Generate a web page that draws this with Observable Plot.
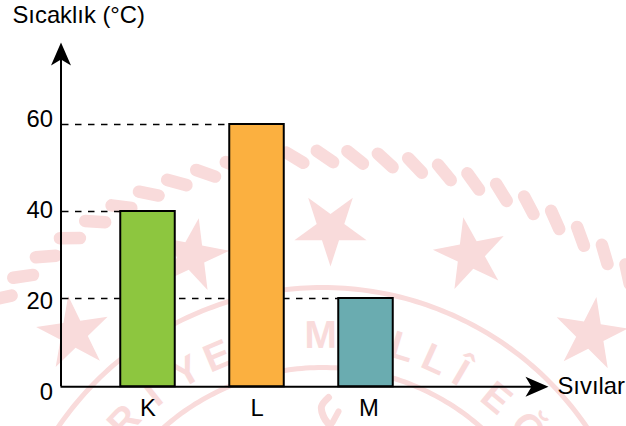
<!DOCTYPE html>
<html><head><meta charset="utf-8">
<style>html,body{margin:0;padding:0;background:#fff;overflow:hidden}svg{display:block}</style>
<script src="https://cdn.jsdelivr.net/npm/d3@7"></script>
<script src="https://cdn.jsdelivr.net/npm/@observablehq/plot@0.6"></script>
</head><body><div id="chart"></div>
<script>
const categories = ["K", "L", "M"];
const positions = [1, 2, 3];
const values = [40, 60, 20];
const colors = ["#8dc63f", "#fbb040", "#6aacb0"];
const labelNudge = [0, 0, 3];
const ticks = [0, 20, 40, 60];
const tickNudge = [6.5, 2.5, -1.5, -5];
const axisBase = -0.3;

// faint seal behind the chart, described in page pixels
const pink = "#f9dbdb";
const starX = [73, 191, 330, 470, 590];
const starY = [333, 255, 228, 254, 334];
const starTurn = [-8, 11, 36, -11, 9];
const ropeAngles = d3.range(-47, 48, 3.9);
const sealWord = ["R","İ","Y","E","M","İ","L","L","Î","E","Ğ"];
const sealAngles = [-46.8,-38.5,-30,-22.7,-0.4,8,17,24.4,30.5,39.7,49];

const X0 = 38.5, XSTEP = 109, Y0 = 385, Y60 = 124;
const wx = p => (p - X0) / XSTEP;
const wy = p => 60 * (Y0 - p) / (Y0 - Y60);
const rad = d => d * Math.PI / 180;
const onCircle = (cx, cy, r, a) => [cx + r * Math.sin(rad(a)), cy - r * Math.cos(rad(a))];
const arc = (cx, cy, r) => d3.range(-70, 71, 1).map(a => onCircle(cx, cy, r, a));

const arrowHead = {draw(c, size) {
  const s = Math.sqrt(size / Math.PI) / 12;
  c.moveTo(0, -12 * s); c.lineTo(10 * s, 11 * s); c.lineTo(0, 5 * s); c.lineTo(-10 * s, 11 * s); c.closePath();
}};

const axisX = wx(60.5);
const bars = categories.map((c, i) => ({c, p: positions[i], v: values[i], col: colors[i], n: labelNudge[i]}));
const rope = ropeAngles.map(a => {
  const [x, y] = onCircle(326, 600, 444, a);
  const t = rad(a + 35);
  return {x1: x - 10 * Math.cos(t), y1: y - 10 * Math.sin(t), x2: x + 10 * Math.cos(t), y2: y + 10 * Math.sin(t)};
});
const letters = sealWord.map((l, i) => {
  const [x, y] = onCircle(322, 607, 272, sealAngles[i]);
  return {l, x, y, a: sealAngles[i]};
});
const flame = [[328, 397], [321, 406], [323, 416], [330, 426]];
const flameTip = [[338, 411], [332, 422]];

const font = "Liberation Sans, Arial, sans-serif";
const FS = 23.8;
const marks = [
  ...[320, 240].map(r => Plot.line(arc(322, 607, r), {x: d => wx(d[0]), y: d => wy(d[1]), stroke: pink, strokeWidth: 5})),
  Plot.link(rope, {x1: d => wx(d.x1), y1: d => wy(d.y1), x2: d => wx(d.x2), y2: d => wy(d.y2), stroke: pink, strokeWidth: 12.5, strokeLinecap: "round"}),
  Plot.dot(starX.map((x, i) => i), {x: i => wx(starX[i]), y: i => wy(starY[i]), symbol: "star", r: 22.7, rotate: i => starTurn[i], fill: pink, stroke: "none"}),
  Plot.text(letters, {x: d => wx(d.x), y: d => wy(d.y), text: "l", rotate: d => d.a, fill: pink, fontSize: 39, fontWeight: "bold", fontFamily: font}),
  Plot.line(flame, {x: d => wx(d[0]), y: d => wy(d[1]), stroke: pink, strokeWidth: 7, curve: "catmull-rom"}),
  Plot.line(flameTip, {x: d => wx(d[0]), y: d => wy(d[1]), stroke: pink, strokeWidth: 6}),

  Plot.ruleY(values, {x1: wx(62), x2: v => bars.find(b => b.v === v).p - 0.25, stroke: "#000", strokeWidth: 1.3, strokeDasharray: "6.5,6.5"}),
  Plot.rect(bars, {x1: d => d.p - 0.25, x2: d => d.p + 0.25, y1: axisBase, y2: "v", fill: "col", stroke: "#000", strokeWidth: 2}),
  Plot.ruleY([axisBase], {x1: axisX, x2: wx(535), stroke: "#000", strokeWidth: 2}),
  Plot.ruleX([axisX], {y1: axisBase, y2: wy(55), stroke: "#000", strokeWidth: 2}),
  Plot.dot([0], {x: axisX, y: wy(54), symbol: arrowHead, r: 12, fill: "#000", stroke: "none"}),
  Plot.dot([0], {x: wx(536), y: axisBase, symbol: arrowHead, r: 12, rotate: 90, fill: "#000", stroke: "none"}),

  ...ticks.map((t, i) => Plot.text([t], {x: axisX, y: t, text: d => String(d), dx: -8, dy: tickNudge[i], textAnchor: "end", fontSize: FS, fontFamily: font, fill: "#000"})),
  ...bars.map(b => Plot.text([b], {x: "p", y: 0, text: "c", dx: b.n, dy: 23, fontSize: FS, fontFamily: font, fill: "#000"})),
  Plot.text(["Sıcaklık (°C)"], {x: wx(12), y: wy(15), text: d => d, textAnchor: "start", fontSize: FS, fontFamily: font, fill: "#000"}),
  Plot.text(["Sıvılar"], {x: wx(557), y: axisBase, text: d => d, textAnchor: "start", fontSize: FS, fontFamily: font, fill: "#000"})
];

document.getElementById("chart").append(Plot.plot({
  width: 626, height: 426, margin: 0,
  style: {background: "#fff"},
  x: {type: "linear", domain: [0, 4], range: [X0, X0 + 4 * XSTEP], axis: null},
  y: {type: "linear", domain: [0, 60], range: [Y0, Y60], axis: null},
  marks
}));
</script></body></html>
